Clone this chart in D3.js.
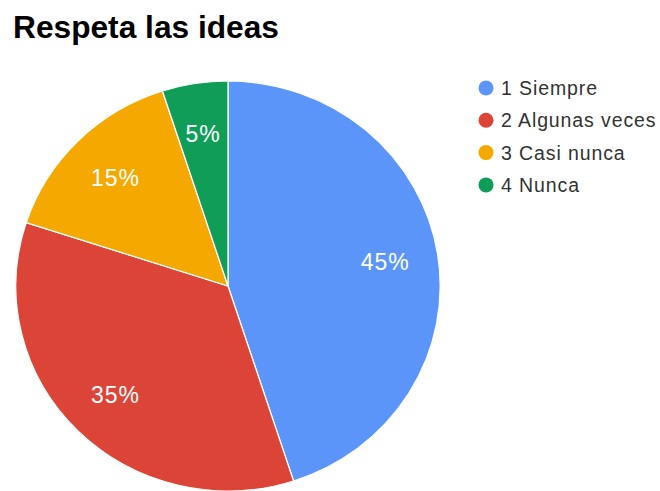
<!DOCTYPE html>
<html>
<head>
<meta charset="utf-8">
<script src="https://cdn.jsdelivr.net/npm/d3@7/dist/d3.min.js"></script>
<style>
  html, body { margin: 0; padding: 0; background: #fff; }
  svg { display: block; font-family: "Liberation Sans", Arial, sans-serif; }
</style>
</head>
<body>
<svg id="chart" width="660" height="491"></svg>
<script>
// Survey answers for "Respeta las ideas"
const title = "Respeta las ideas";
const categories = ["1 Siempre", "2 Algunas veces", "3 Casi nunca", "4 Nunca"];
const values = [45, 35, 15, 5];
const colors = ["#5b95f9", "#db4437", "#f4a800", "#0f9d58"];

const svg = d3.select("#chart");

// Title
svg.append("text")
  .attr("x", 13)
  .attr("y", 38)
  .attr("font-size", 31.7)
  .attr("font-weight", "bold")
  .attr("fill", "#000")
  .text(title);

// Pie geometry (slightly wider than tall)
const cx = 228, cy = 286, r = 205, sx = 1.035;

const data = categories.map((c, i) => ({ name: c, value: values[i], color: colors[i] }));
const pie = d3.pie().value(d => d.value).sort(null);
const arcs = pie(data);
const arc = d3.arc().innerRadius(0).outerRadius(r);
const labelArc = d3.arc().innerRadius(r * 0.75).outerRadius(r * 0.75);

const g = svg.append("g").attr("transform", `translate(${cx},${cy}) scale(${sx},1)`);
g.selectAll("path")
  .data(arcs)
  .join("path")
  .attr("d", arc)
  .attr("fill", d => d.data.color)
  .attr("stroke", "#fff")
  .attr("stroke-width", 1.2);

// Percentage labels inside slices
const total = d3.sum(values);
svg.append("g")
  .selectAll("text")
  .data(arcs)
  .join("text")
  .attr("x", d => cx + labelArc.centroid(d)[0] * sx)
  .attr("y", d => cy + labelArc.centroid(d)[1])
  .attr("dy", "0.36em")
  .attr("text-anchor", "middle")
  .attr("font-size", 23)
  .attr("letter-spacing", 1)
  .attr("fill", "#fff")
  .text(d => Math.round(d.data.value / total * 100) + "%");

// Legend
const legend = svg.append("g");
const row = legend.selectAll("g")
  .data(data)
  .join("g")
  .attr("transform", (d, i) => `translate(0,${88 + i * 32.3})`);
row.append("circle")
  .attr("cx", 486)
  .attr("cy", 0)
  .attr("r", 7.5)
  .attr("fill", d => d.color);
row.append("text")
  .attr("x", 501)
  .attr("y", 0)
  .attr("dy", "0.36em")
  .attr("font-size", 19.5)
  .attr("letter-spacing", 0.9)
  .attr("fill", "#333")
  .text(d => d.name);
</script>
</body>
</html>
